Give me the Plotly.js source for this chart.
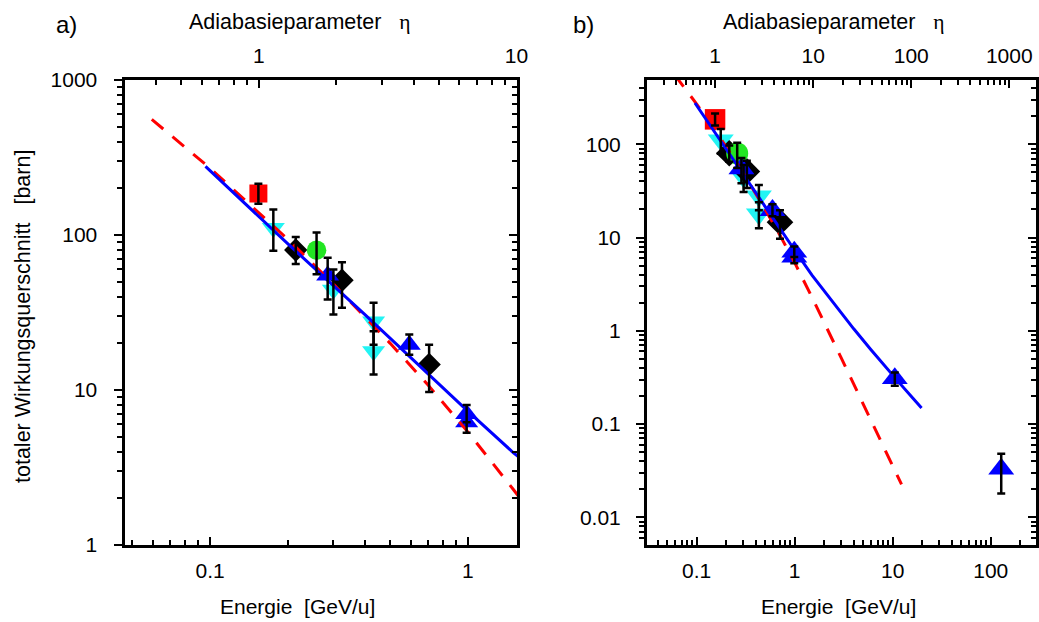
<!DOCTYPE html>
<html><head><meta charset="utf-8">
<script src="https://cdn.plot.ly/plotly-3.0.1.min.js"></script>
<style>html,body{margin:0;padding:0;background:#fff}#chart{width:1039px;height:622px}</style>
</head><body><div id="chart"></div>
<script>
// ---------- data ----------
// measured cross sections (energy in GeV/u, sigma in barn, asymmetric errors)
const squareE = [0.154];
const squareS = [185];
const squareUp = [29];
const squareDn = [26];

const cyanE = [0.176, 0.301, 0.431, 0.431];
const cyanS = [111, 44.4, 27.7, 17.8];
const cyanUp = [35, 15.4, 8.8, 6.1];
const cyanDn = [32, 13.7, 8.1, 5.2];

const diamondE = [0.215, 0.325, 0.708];
const diamondS = [80, 51.1, 14.6];
const diamondUp = [17, 15.6, 5];
const diamondDn = [15, 17.2, 4.9];

const circleE = [0.259];
const circleS = [79.8];
const circleUp = [24];
const circleDn = [24];

const triE = [0.286, 0.593, 0.99, 0.99, 10.5, 128];
const triS = [54.7, 19.6, 7.0, 6.2, 0.308, 0.033];
const triUp = [16.6, 3.2, 1.0, 0, 0.05, 0.015];
const triDn = [16.4, 2.7, 1.7, 0, 0.05, 0.015];

// theory curves
const redE = [0.0594, 0.1, 0.2, 0.3, 0.5, 0.7, 1, 1.5, 3, 6, 12.3];
const redS = [557, 270, 94, 48.6, 20, 10.8, 5.37, 2.29, 0.506, 0.110, 0.0225];
const blueE = [0.096, 0.2, 0.4, 0.7, 1, 1.5, 2, 3, 4, 6, 8, 12, 16, 19.7];
const blueS = [277, 88, 30.5, 12.7, 7.3, 3.95, 2.67, 1.55, 1.05, 0.627, 0.436, 0.268, 0.19, 0.149];

// tick labels
const xTicksA = [0.1, 1],            xTextA = ['0.1', '1'];
const xTicksB = [0.1, 1, 10, 100],   xTextB = ['0.1', '1', '10', '100'];
const yTicksA = [1, 10, 100, 1000],  yTextA = ['1', '10', '100', '1000'];
const yTicksB = [0.01, 0.1, 1, 10, 100], yTextB = ['0.01', '0.1', '1', '10', '100'];
const etaTicksA = [1, 10],           etaTextA = ['1', '10'];
const etaTicksB = [1, 10, 100, 1000], etaTextB = ['1', '10', '100', '1000'];
const etaOffset = 0.811; // log10(eta) = log10(E) + etaOffset

// ---------- layout helpers ----------
const W = 1039, H = 622;
const FONT = 'Liberation Sans, Arial, sans-serif';
const FS = 21;
const fx = p => p / W, fy = p => 1 - p / H;

function minorVals(lo, hi) {
  const out = [];
  for (let d = Math.floor(lo) - 1; d <= Math.ceil(hi); d++)
    for (let m = 2; m <= 9; m++) out.push(m * Math.pow(10, d));
  return out;
}

function logAxis(range, tv, tt, opts) {
  return Object.assign({
    type: 'log', range: range, tickmode: 'array', tickvals: tv, ticktext: tt,
    showgrid: false, zeroline: false, showline: true, linewidth: 3, linecolor: '#000',
    ticks: 'inside', ticklen: 8, tickwidth: 2, tickcolor: '#000',
    tickfont: {family: FONT, size: FS, color: '#000'},
    minor: {tickmode: 'array', tickvals: minorVals(range[0], range[1]),
            ticks: 'inside', ticklen: 5, tickwidth: 2, tickcolor: '#000', showgrid: false},
    fixedrange: true
  }, opts || {});
}

function panel(xa, ya, msize) {
  const t = [];
  const mk = (x, y, sym, col, sz) => ({
    type: 'scatter', mode: 'markers', x: x, y: y, xaxis: xa, yaxis: ya,
    marker: {symbol: sym, color: col, size: sz, line: {width: 0}},
    hoverinfo: 'skip', showlegend: false
  });
  const eb = (x, y, up, dn) => ({
    type: 'scatter', mode: 'markers', x: x, y: y, xaxis: xa, yaxis: ya,
    marker: {color: 'rgba(0,0,0,0)', size: 1},
    error_y: {type: 'data', symmetric: false, array: up, arrayminus: dn,
              color: '#000', thickness: 2.5, width: 4},
    hoverinfo: 'skip', showlegend: false
  });
  t.push(mk(squareE, squareS, 'square', '#ff0000', msize));
  t.push(mk(cyanE, cyanS, 'triangle-down', '#22f4f4', msize + 2));
  t.push(mk(diamondE, diamondS, 'diamond', '#000000', msize));
  t.push(mk(circleE, circleS, 'circle', '#22e622', msize + 1.5));
  t.push(mk(triE, triS, 'triangle-up', '#0000ff', msize + 2));
  t.push({type: 'scatter', mode: 'lines', x: redE, y: redS, xaxis: xa, yaxis: ya,
          line: {color: '#ff0000', width: 3, dash: '15px,12px'}, hoverinfo: 'skip', showlegend: false});
  t.push({type: 'scatter', mode: 'lines', x: blueE, y: blueS, xaxis: xa, yaxis: ya,
          line: {color: '#0000ff', width: 3}, hoverinfo: 'skip', showlegend: false});
  t.push(eb(squareE, squareS, squareUp, squareDn));
  t.push(eb(cyanE, cyanS, cyanUp, cyanDn));
  t.push(eb(diamondE, diamondS, diamondUp, diamondDn));
  t.push(eb(circleE, circleS, circleUp, circleDn));
  t.push(eb(triE, triS, triUp, triDn));
  return t;
}

const data = [].concat(
  panel('x', 'y', 18),
  panel('x2', 'y2', 20.5),
  [
    {type: 'scatter', x: [], y: [], xaxis: 'x3', yaxis: 'y', hoverinfo: 'skip', showlegend: false},
    {type: 'scatter', x: [], y: [], xaxis: 'x4', yaxis: 'y2', hoverinfo: 'skip', showlegend: false},
    {type: 'scatter', x: [], y: [], xaxis: 'x', yaxis: 'y3', hoverinfo: 'skip', showlegend: false},
    {type: 'scatter', x: [], y: [], xaxis: 'x2', yaxis: 'y4', hoverinfo: 'skip', showlegend: false}
  ]
);

const xrA = [-1.332, 0.191], xrB = [-1.507, 2.462];
const yrA = [0, 3], yrB = [-2.297, 2.689];
const domA = [fx(124.5), fx(517)], domB = [fx(647), fx(1036)];
const domY = [1 - 545 / H, 1 - 80 / H];

const layout = {
  width: W, height: H, margin: {l: 0, r: 0, t: 0, b: 0},
  paper_bgcolor: '#fff', plot_bgcolor: '#fff', showlegend: false,
  font: {family: FONT, color: '#000'},
  xaxis: logAxis(xrA, xTicksA, xTextA, {domain: domA, anchor: 'y', ticklabelstandoff: 5}),
  yaxis: logAxis(yrA, yTicksA, yTextA, {domain: domY, anchor: 'x', ticks: 'outside',
          minor: {tickmode: 'array', tickvals: minorVals(0, 3), ticks: 'outside', ticklen: 5, tickwidth: 2, tickcolor: '#000'},
          ticklabelstandoff: 12}),
  xaxis2: logAxis(xrB, xTicksB, xTextB, {domain: domB, anchor: 'y2', ticklabelstandoff: 5}),
  yaxis2: logAxis(yrB, yTicksB, yTextB, {domain: domY, anchor: 'x2', ticks: 'outside',
          minor: {tickmode: 'array', tickvals: minorVals(-3, 3), ticks: 'outside', ticklen: 5, tickwidth: 2, tickcolor: '#000'},
          ticklabelstandoff: 11}),
  xaxis3: logAxis([xrA[0] + etaOffset, xrA[1] + etaOffset], etaTicksA, etaTextA,
          {overlaying: 'x', anchor: 'y', side: 'top', ticklabelstandoff: 6}),
  xaxis4: logAxis([xrB[0] + etaOffset, xrB[1] + etaOffset], etaTicksB, etaTextB,
          {overlaying: 'x2', anchor: 'y2', side: 'top', ticklabelstandoff: 6}),
  yaxis3: logAxis(yrA, yTicksA, yTextA, {overlaying: 'y', anchor: 'x', side: 'right', showticklabels: false}),
  yaxis4: logAxis(yrB, yTicksB, yTextB, {overlaying: 'y2', anchor: 'x2', side: 'right', showticklabels: false}),
  annotations: [
    {text: 'a)', x: fx(66), y: fy(24), size: 24},
    {text: 'b)', x: fx(583), y: fy(24), size: 24},
    {text: 'Adiabasieparameter &nbsp;&nbsp;<span style="font-family:Liberation Serif">η</span>', x: fx(300), y: fy(22), size: 21.5},
    {text: 'Adiabasieparameter &nbsp;&nbsp;<span style="font-family:Liberation Serif">η</span>', x: fx(834), y: fy(22), size: 21.5},
    {text: 'Energie &nbsp;[GeV/u]', x: fx(297), y: fy(606)},
    {text: 'Energie &nbsp;[GeV/u]', x: fx(838), y: fy(606)},
    {text: 'totaler Wirkungsquerschnitt &nbsp;&nbsp;[barn]', x: fx(23), y: fy(317), textangle: -90, size: 21.5}
  ].map(a => ({
    text: a.text, x: a.x, y: a.y, xref: 'paper', yref: 'paper',
    xanchor: 'center', yanchor: 'middle', showarrow: false, textangle: a.textangle || 0,
    font: {family: FONT, size: a.size || FS, color: '#000'}
  }))
};

Plotly.newPlot('chart', data, layout, {staticPlot: true, displayModeBar: false});
</script>
</body></html>
